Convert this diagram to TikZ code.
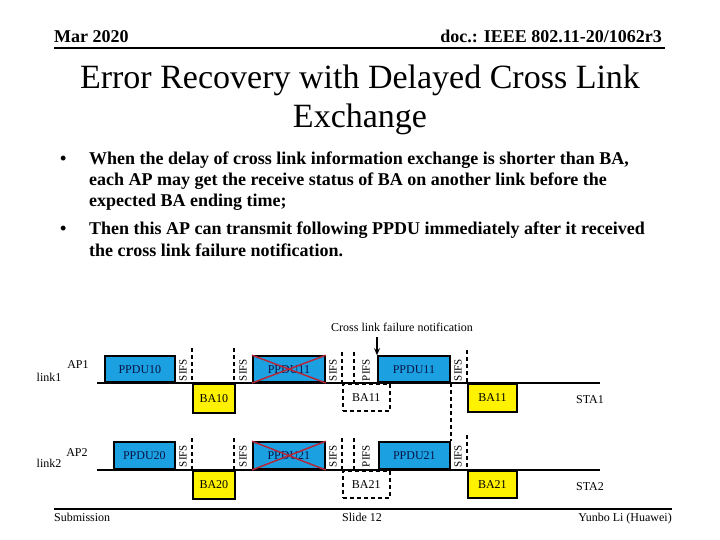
\documentclass[tikz,border=0pt]{standalone}
\usepackage{fontspec}
\setmainfont{Liberation Serif}
\usetikzlibrary{arrows.meta}
\definecolor{ppblue}{RGB}{27,161,226}
\definecolor{crossred}{RGB}{180,40,60}
\definecolor{navytext}{RGB}{10,20,70}
\newcommand{\fsz}[1]{\fontsize{#1}{#1}\selectfont}
\tikzset{
  ppdu/.style={draw, line width=1.8pt, fill=ppblue, inner sep=0pt, anchor=south west, font=\fsz{12}, text=navytext},
  babox/.style={draw, line width=1.8pt, fill=yellow, inner sep=0pt, anchor=north west, font=\fsz{12}},
  badash/.style={draw, line width=1.6pt, dash pattern=on 4pt off 3pt, inner sep=0pt, anchor=north west, font=\fsz{12}},
  dline/.style={line width=1.4pt, dash pattern=on 4pt off 3pt},
  sifs/.style={rotate=90, font=\fsz{11}, inner sep=0pt},
  lbl/.style={font=\fsz{12}, inner sep=0pt},
  baseln/.style={line width=2pt},
  xline/.style={line width=1.5pt, crossred},
  bul/.style={font=\bfseries\fsz{18}, inner sep=0pt, anchor=base west},
}
\begin{document}
\begin{tikzpicture}[x=1pt, y=-1pt]
\useasboundingbox (0,0) rectangle (720,540);
% header
\node[font=\bfseries\fsz{18}, inner sep=0pt, anchor=base west] (hdl) at (54,43) {Mar 2020};
\node[font=\bfseries\fsz{18}, inner sep=0pt, anchor=base east] (hdr) at (662,43) {doc.: IEEE 802.11-20/1062r3};
\coordinate (hl1) at (54,48); \coordinate (hl2) at (665,48);
\draw[line width=1.8pt] (hl1) -- (hl2);
% title
\node[font=\fsz{34}, inner sep=0pt, anchor=base] (t1) at (360,89) {Error Recovery with Delayed Cross Link};
\node[font=\fsz{34}, inner sep=0pt, anchor=base] (t2) at (360,128) {Exchange};
% bullets
\node[bul] (b1) at (60,165) {•};
\node[bul] (l1) at (89,165) {When the delay of cross link information exchange is shorter than BA,};
\node[bul] (l2) at (89,186) {each AP may get the receive status of BA on another link before the};
\node[bul] (l3) at (89,207) {expected BA ending time;};
\node[bul] (b2) at (60,235) {•};
\node[bul] (l4) at (89,235) {Then this AP can transmit following PPDU immediately after it received};
\node[bul] (l5) at (89,256) {the cross link failure notification.};
% link 1
\coordinate (a1) at (97,383); \coordinate (a2) at (600,383);
\draw[baseln] (a1) -- (a2);
\node[lbl] (ap1) at (78,365) {AP1};
\node[lbl] (lk1) at (49,377) {link1};
\node[ppdu, minimum width=70, minimum height=26] (p10) at (104,383) {PPDU10};
\node[sifs] (s1a) at (183,370) {SIFS};
\coordinate (d1a) at (192,348); \coordinate (d1b) at (192,383);
\draw[dline] (d1a) -- (d1b);
\node[babox, minimum width=42, minimum height=29] (ba10) at (192,383) {BA10};
\coordinate (d2a) at (234,348); \coordinate (d2b) at (234,383);
\draw[dline] (d2a) -- (d2b);
\node[sifs] (s1b) at (243,370) {SIFS};
\node[ppdu, minimum width=72, minimum height=26] (p11x) at (252,383) {PPDU11};
\draw[xline] (p11x.south west) -- (p11x.north east);
\draw[xline] (p11x.north west) -- (p11x.south east);
\node[sifs] (s1c) at (333,370) {SIFS};
\coordinate (d3a) at (342,352);
\node[badash, minimum width=47, minimum height=27] (ba11d) at (342,383) {BA11};
\draw[dline] (d3a) -- (ba11d.north west);
\coordinate (d4a) at (354,352); \coordinate (d4b) at (354,383);
\draw[dline] (d4a) -- (d4b);
\node[sifs] (pf1) at (366,370) {PIFS};
\node[ppdu, minimum width=72, minimum height=26] (p11) at (377,383) {PPDU11};
\node[sifs] (s1d) at (458,370) {SIFS};
\coordinate (d5a) at (467,350);
\node[babox, minimum width=49, minimum height=28] (ba11) at (467,383) {BA11};
\draw[dline] (d5a) -- (ba11.north west);
\node[lbl] (sta1) at (590,400) {STA1};
\node[lbl] (note) at (402,327) {Cross link failure notification};
\coordinate (arr) at (377,337);
\draw[line width=1.5pt, -{Stealth[length=7pt,width=6pt]}] (arr) -- (p11.north west);
% link 2
\coordinate (c1) at (97,470); \coordinate (c2) at (600,470);
\draw[baseln] (c1) -- (c2);
\node[lbl] (ap2) at (77,453) {AP2};
\node[lbl] (lk2) at (49,463) {link2};
\node[ppdu, minimum width=61, minimum height=27] (p20) at (113,470) {PPDU20};
\node[sifs] (s2a) at (183,456) {SIFS};
\coordinate (e1a) at (192,438); \coordinate (e1b) at (192,470);
\draw[dline] (e1a) -- (e1b);
\node[babox, minimum width=42, minimum height=28] (ba20) at (192,470) {BA20};
\coordinate (e2a) at (234,438); \coordinate (e2b) at (234,470);
\draw[dline] (e2a) -- (e2b);
\node[sifs] (s2b) at (243,456) {SIFS};
\node[ppdu, minimum width=72, minimum height=27] (p21x) at (252,470) {PPDU21};
\draw[xline] (p21x.south west) -- (p21x.north east);
\draw[xline] (p21x.north west) -- (p21x.south east);
\node[sifs] (s2c) at (333,456) {SIFS};
\coordinate (e3a) at (342,438);
\node[badash, minimum width=47, minimum height=27] (ba21d) at (342,470) {BA21};
\draw[dline] (e3a) -- (ba21d.north west);
\coordinate (e4a) at (354,438); \coordinate (e4b) at (354,470);
\draw[dline] (e4a) -- (e4b);
\node[sifs] (pf2) at (366,456) {PIFS};
\node[ppdu, minimum width=71, minimum height=27] (p21) at (378,470) {PPDU21};
\node[sifs] (s2d) at (458,456) {SIFS};
\coordinate (e5a) at (467,435);
\node[babox, minimum width=49, minimum height=27] (ba21) at (467,470) {BA21};
\draw[dline] (e5a) -- (ba21.north west);
\node[lbl] (sta2) at (590,487) {STA2};
% cross-link dashed line
\draw[dline] (p11.south east) -- (p21.north east);
% footer
\coordinate (f1) at (54,509); \coordinate (f2) at (672,509);
\draw[line width=1.6pt] (f1) -- (f2);
\node[lbl, anchor=base west] (sub) at (54,521) {Submission};
\node[lbl, anchor=base] (sl) at (362,521) {Slide 12};
\node[lbl, anchor=base east] (au) at (672,521) {Yunbo Li (Huawei)};
\end{tikzpicture}
\end{document}
